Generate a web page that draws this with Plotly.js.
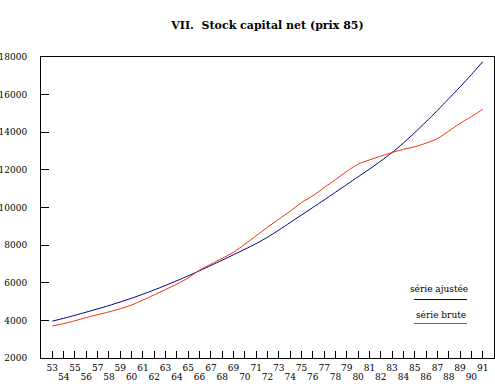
<!DOCTYPE html>
<html>
<head>
<meta charset="utf-8">
<script src="https://cdn.plot.ly/plotly-3.0.1.min.js"></script>
<style>html,body{margin:0;padding:0;background:#fff}#chart{width:495px;height:387px}</style>
</head>
<body>
<div id="chart"></div>
<script>
var years = [53,54,55,56,57,58,59,60,61,62,63,64,65,66,67,68,69,70,71,72,73,74,75,76,77,78,79,80,81,82,83,84,85,86,87,88,89,90,91];
var serieAjustee = [3960,4110,4270,4440,4610,4790,4980,5180,5390,5620,5860,6110,6370,6640,6920,7200,7490,7780,8080,8420,8800,9200,9600,10000,10400,10810,11220,11630,12040,12470,12920,13430,13980,14560,15160,15780,16410,17060,17750];
var serieBrute = [3700,3830,3980,4150,4300,4450,4620,4820,5080,5360,5640,5930,6260,6670,6990,7300,7620,8050,8500,8950,9380,9800,10260,10620,11060,11480,11920,12300,12530,12730,12920,13090,13230,13420,13660,14060,14470,14830,15220];
var yTicks = [2000,4000,6000,8000,10000,12000,14000,16000,18000];
var evenYears = years.filter(function(y){return y % 2 === 0;});
var titleText = 'VII.  Stock capital net (prix 85)';
var legendNames = ['série ajustée', 'série brute'];
var colors = ['#000080', '#ee3311'];

var font = 'DejaVu Serif';
var traces = [
  {x: years, y: serieAjustee, type: 'scatter', mode: 'lines', line: {color: colors[0], width: 1, shape: 'spline', smoothing: 0.8}, showlegend: false, hoverinfo: 'skip'},
  {x: years, y: serieBrute, type: 'scatter', mode: 'lines', line: {color: colors[1], width: 1, shape: 'spline', smoothing: 0.8}, showlegend: false, hoverinfo: 'skip'},
  {x: evenYears, y: evenYears.map(function(){return null;}), xaxis: 'x2', type: 'scatter', mode: 'lines', showlegend: false, hoverinfo: 'skip'}
];

var layout = {
  width: 495, height: 387,
  margin: {l: 41, r: 1, t: 57, b: 29},
  paper_bgcolor: '#fff', plot_bgcolor: '#fff',
  font: {family: font, size: 9, color: '#000'},
  title: {text: '<b>' + titleText + '</b>', x: 0.5, xref: 'paper', y: 1 - 25/387, yanchor: 'middle', font: {family: font, size: 11, color: '#000'}},
  xaxis: {
    range: [52, 92], showgrid: false, zeroline: false,
    showline: true, linecolor: '#000', linewidth: 1, mirror: true,
    ticks: 'inside', ticklen: 7, tickcolor: '#000', tickwidth: 1,
    tickvals: years, ticktext: years.map(function(y){return y % 2 === 1 ? String(y) : '';}),
    tickfont: {family: font, size: 9}, ticklabelstandoff: 1
  },
  xaxis2: {
    range: [52, 92], overlaying: 'x', anchor: 'y', side: 'bottom',
    showgrid: false, zeroline: false, showline: false, ticks: '',
    tickvals: evenYears, ticktext: evenYears.map(String),
    tickfont: {family: font, size: 9}, ticklabelstandoff: 12
  },
  yaxis: {
    range: [2000, 18000], showgrid: false, zeroline: false,
    showline: true, linecolor: '#000', linewidth: 1, mirror: true,
    ticks: 'inside', ticklen: 8, tickcolor: '#000', tickwidth: 1,
    tickvals: yTicks, ticktext: yTicks.map(String),
    tickfont: {family: font, size: 9}, ticklabelstandoff: 11
  },
  annotations: [
    {xref: 'paper', yref: 'paper', x: (439-41)/453, y: (358-289)/301, text: legendNames[0], showarrow: false, xanchor: 'center', yanchor: 'middle', font: {family: font, size: 9, color: '#000'}},
    {xref: 'paper', yref: 'paper', x: (441-41)/453, y: (358-315)/301, text: legendNames[1], showarrow: false, xanchor: 'center', yanchor: 'middle', font: {family: font, size: 9, color: '#000'}}
  ],
  shapes: [
    {type: 'line', xref: 'paper', yref: 'paper', x0: (414-41)/453, x1: (467-41)/453, y0: (358-299.5)/301, y1: (358-299.5)/301, line: {color: colors[0], width: 1}},
    {type: 'line', xref: 'paper', yref: 'paper', x0: (414-41)/453, x1: (467-41)/453, y0: (358-323.5)/301, y1: (358-323.5)/301, line: {color: colors[1], width: 1}}
  ]
};

Plotly.newPlot('chart', traces, layout, {staticPlot: true, displayModeBar: false});
</script>
</body>
</html>
